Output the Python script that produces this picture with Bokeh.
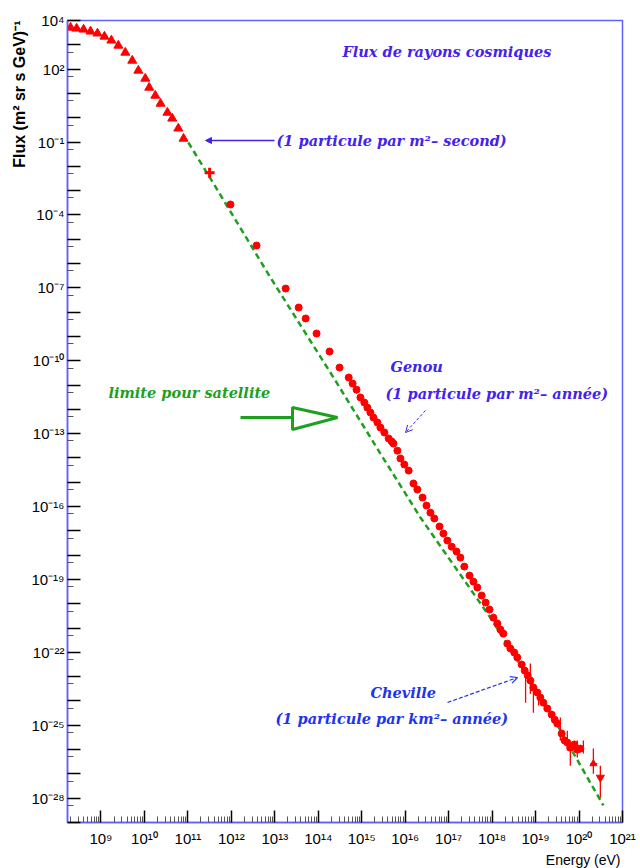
import math
from bokeh.plotting import figure
from bokeh.models import (FixedTicker, CustomJSTickFormatter, Label, Arrow, Title,
                          NormalHead, OpenHead, PolyAnnotation, Range1d)
from bokeh.embed import file_html
from bokeh.resources import INLINE

# ---------------- data (log10 of energy in eV, log10 of flux) ----------------
low_log_e = [8.30, 8.44, 8.60, 8.76, 8.92, 9.08, 9.24, 9.40, 9.56, 9.72, 9.86,
             10.02, 10.11, 10.25, 10.37, 10.53, 10.64, 10.78, 10.90]
low_log_f = [3.71, 3.67, 3.63, 3.55, 3.47, 3.34, 3.18, 2.97, 2.68, 2.35, 1.94,
             1.61, 1.24, 0.91, 0.58, 0.21, -0.03, -0.44, -0.86]

cross_log_e = [11.50]
cross_log_f = [-2.26]

mid_log_e = [11.98, 12.58, 13.25, 13.55, 13.71, 13.96, 14.26, 14.49, 14.70]
mid_log_f = [-3.57, -5.26, -7.03, -7.81, -8.26, -8.88, -9.62, -10.28, -10.69]

dense_log_e = [14.79, 14.88, 14.97, 15.06, 15.13, 15.20, 15.27, 15.36, 15.43, 15.52,
               15.62, 15.69, 15.73, 15.82, 15.89, 15.98, 16.08, 16.19, 16.28, 16.40,
               16.49, 16.58, 16.67, 16.79, 16.88, 16.97, 17.07, 17.18, 17.27, 17.36,
               17.48, 17.57, 17.66, 17.76, 17.85, 17.94, 18.03, 18.12, 18.19, 18.26,
               18.35, 18.42, 18.51, 18.58, 18.68, 18.75, 18.82, 18.88, 18.95, 19.04,
               19.11, 19.18, 19.27, 19.37, 19.44, 19.50, 19.60, 19.67, 19.73, 19.80,
               19.89, 19.96, 20.03]
dense_log_f = [-10.94, -11.19, -11.51, -11.72, -11.93, -12.13, -12.34, -12.54, -12.75, -12.95,
               -13.20, -13.32, -13.41, -13.70, -14.02, -14.27, -14.52, -15.05, -15.30, -15.63,
               -15.96, -16.25, -16.49, -16.82, -17.11, -17.40, -17.65, -17.85, -18.10, -18.47,
               -18.84, -19.09, -19.33, -19.66, -19.95, -20.24, -20.57, -20.81, -21.06, -21.23,
               -21.64, -21.84, -22.01, -22.21, -22.50, -22.75, -22.95, -23.16, -23.45, -23.65,
               -23.86, -24.07, -24.31, -24.56, -24.77, -24.93, -25.34, -25.63, -25.71, -25.92,
               -25.79, -26.00, -25.96]

tail_up_log_e = [20.33]
tail_up_log_f = [-26.58]
tail_down_log_e = [20.49]
tail_down_log_f = [-27.15]

err_log_e = [18.77, 18.88, 18.95, 19.07, 19.57, 19.73, 19.80, 19.96, 20.10, 20.33, 20.49]
err_log_lo = [-24.07, -23.70, -24.48, -24.19, -25.63, -26.04, -26.66, -26.33, -26.16, -26.99, -27.98]
err_log_hi = [-22.87, -22.46, -23.45, -23.57, -24.68, -25.22, -25.75, -25.63, -25.63, -25.96, -26.66]
herr_log_lo = [20.26]
herr_log_hi = [20.42]
herr_log_f = [-26.58]

green_log_e = [11.01, 11.59, 12.90, 14.35, 15.43, 16.35, 17.96, 19.27, 20.56]
green_log_f = [-1.02, -2.71, -6.58, -10.69, -13.82, -16.45, -20.57, -24.27, -28.30]

x_label_exps = list(range(9, 22))
y_label_exps = [4, 2, -1, -4, -7, -10, -13, -16, -19, -22, -25, -28]

# ---------------- geometry ----------------
FRAME_L, FRAME_T, FRAME_W, FRAME_H = 67, 20, 555, 802
XL0, XL1 = 8.23, 21.0
YL0, YL1 = -29.0, 4.0


def p10(vals):
    return [10 ** v for v in vals]


def dx(px):
    return 10 ** (XL0 + (px - FRAME_L) / FRAME_W * (XL1 - XL0))


def dy(py):
    return 10 ** (YL1 - (py - FRAME_T) / FRAME_H * (YL1 - YL0))


p = figure(width=640, height=868,
           x_axis_type="log", y_axis_type="log",
           x_range=Range1d(10 ** XL0, 10 ** XL1), y_range=Range1d(10 ** YL0, 10 ** YL1),
           output_backend="svg", toolbar_location=None,
           min_border_left=FRAME_L, min_border_top=FRAME_T,
           min_border_right=640 - FRAME_L - FRAME_W, min_border_bottom=868 - FRAME_T - FRAME_H,
           background_fill_color="white", border_fill_color="white")
p.grid.visible = False
p.outline_line_color = "#6060ff"
p.outline_line_width = 1.5

RED = "#ff0000"
GREEN = "#1f9f1f"

# green dashed limit line
p.line(p10(green_log_e), p10(green_log_f), line_color=GREEN, line_width=2.5, line_dash="6 4")

# error bars
p.segment(x0=p10(err_log_e), y0=p10(err_log_lo), x1=p10(err_log_e), y1=p10(err_log_hi),
          line_color=RED, line_width=1.3)
p.segment(x0=p10(herr_log_lo), y0=p10(herr_log_f), x1=p10(herr_log_hi), y1=p10(herr_log_f),
          line_color=RED, line_width=1.3)

# red data
p.scatter(p10(low_log_e), p10(low_log_f), marker="triangle", size=9, color=RED)
p.scatter(p10(cross_log_e), p10(cross_log_f), marker="cross", size=10, line_width=3, color=RED)
p.scatter(p10(mid_log_e), p10(mid_log_f), marker="circle", size=7, color=RED)
p.scatter(p10(dense_log_e), p10(dense_log_f), marker="circle", size=7, color=RED)
p.scatter(p10(tail_up_log_e), p10(tail_up_log_f), marker="triangle", size=7, color=RED)
p.scatter(p10(tail_down_log_e), p10(tail_down_log_f), marker="inverted_triangle", size=8, color=RED)

# ---------------- axes ----------------
x_major = [10.0 ** e for e in range(9, 22)]
x_minor = [k * 10.0 ** e for e in range(8, 21) for k in range(2, 10)
           if XL0 <= math.log10(k * 10.0 ** e) <= XL1]
y_major = [10.0 ** e for e in range(-29, 5)]
y_minor = [5 * 10.0 ** (e - 1) for e in range(-28, 5)]

sup_js = """
const sup = {'-':'\u207b','0':'\u2070','1':'\u00b9','2':'\u00b2','3':'\u00b3','4':'\u2074',
             '5':'\u2075','6':'\u2076','7':'\u2077','8':'\u2078','9':'\u2079'};
const e = Math.round(Math.log10(tick));
if (!lab.includes(e)) { return ''; }
return '10' + String(e).split('').map(c => sup[c]).join('');
"""

p.xaxis.ticker = FixedTicker(ticks=x_major, minor_ticks=x_minor)
p.xaxis.formatter = CustomJSTickFormatter(args=dict(lab=x_label_exps), code=sup_js)
p.yaxis.ticker = FixedTicker(ticks=y_major, minor_ticks=y_minor)
p.yaxis.formatter = CustomJSTickFormatter(args=dict(lab=y_label_exps), code=sup_js)

for ax in (p.xaxis, p.yaxis):
    ax.axis_line_color = "#6060ff"
    ax.axis_line_width = 1.5
    ax.major_tick_out = 0
    ax.minor_tick_out = 0
    ax.major_tick_line_color = "black"
    ax.minor_tick_line_color = "#555555"
    ax.major_tick_line_width = 1.5
    ax.minor_tick_line_width = 1
    ax.major_label_text_font = "Liberation Sans"
    ax.major_label_text_font_size = "15px"
    ax.major_label_text_color = "black"

p.xaxis.major_tick_in = 12
p.xaxis.minor_tick_in = 6
p.xaxis.major_label_standoff = 7
p.yaxis.major_tick_in = 13
p.yaxis.minor_tick_in = 6
p.yaxis.major_label_standoff = 3

# axis titles, at the ends of the axes as in the original
p.add_layout(Title(text="Flux (m\u00b2 sr s GeV)\u207b\u00b9", align="right",
                   text_font="Liberation Sans", text_font_style="bold",
                   text_font_size="16px", text_color="black", standoff=2), "left")
p.add_layout(Title(text="Energy (eV)", align="right",
                   text_font="Liberation Sans", text_font_style="normal",
                   text_font_size="14px", text_color="black", standoff=0, offset=2), "below")

# ---------------- annotations ----------------
SERIF = "DejaVu Serif"
BLUE1 = "#4422ee"
BLUE2 = "#2233ee"


def note(px, py, text, color, size="14.5px"):
    p.add_layout(Label(x=dx(px), y=dy(py), text=text, text_align="left", text_baseline="middle",
                       text_font=SERIF, text_font_style="bold italic",
                       text_font_size=size, text_color=color))


note(342, 51, "Flux de rayons cosmiques", BLUE1)
note(276, 140, "(1 particule par m\u00b2\u2013 second)", BLUE1)
note(390, 366, "Genou", BLUE1)
note(385, 393, "(1 particule par m\u00b2\u2013 ann\u00e9e)", BLUE1)
note(108, 392, "limite pour satellite", GREEN)
note(370, 692, "Cheville", BLUE2)
note(275, 718, "(1 particule par km\u00b2\u2013 ann\u00e9e)", BLUE2)

p.add_layout(Arrow(x_start=dx(274), y_start=dy(140), x_end=dx(205), y_end=dy(140),
                   line_color=BLUE1, line_width=1.3,
                   end=NormalHead(size=6, fill_color=BLUE1, line_color=BLUE1)))
p.add_layout(Arrow(x_start=dx(425), y_start=dy(410), x_end=dx(405), y_end=dy(432),
                   line_color=BLUE1, line_width=1, line_dash="3 2",
                   end=OpenHead(size=7, line_color=BLUE1, line_width=1)))
p.add_layout(Arrow(x_start=dx(447), y_start=dy(702), x_end=dx(517), y_end=dy(677),
                   line_color=BLUE2, line_width=1.2, line_dash="4 2",
                   end=OpenHead(size=7, line_color=BLUE2, line_width=1.2)))

# big green arrow towards the limit line
p.add_layout(Arrow(x_start=dx(240), y_start=dy(417), x_end=dx(292), y_end=dy(417),
                   line_color=GREEN, line_width=3, end=None))
p.add_layout(PolyAnnotation(xs=[dx(292), dx(292), dx(337)], ys=[dy(407), dy(429), dy(417)],
                            fill_color="white", fill_alpha=1.0,
                            line_color=GREEN, line_alpha=1.0, line_width=3))

open("out.html", "w").write(file_html(p, INLINE))
